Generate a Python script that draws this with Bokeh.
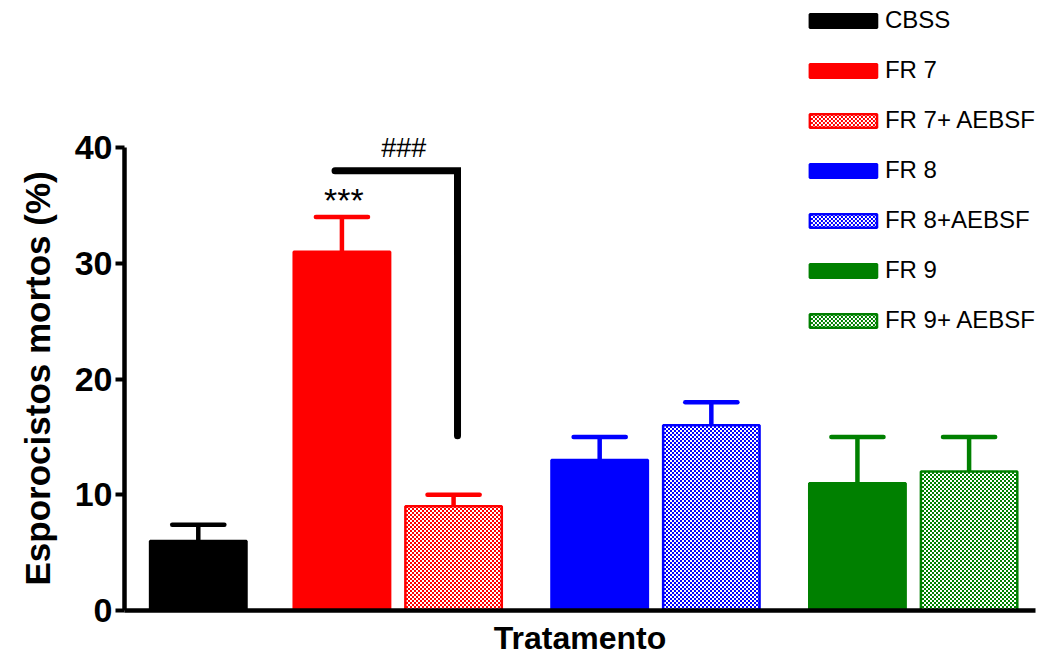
import base64
import struct
import zlib

from bokeh.embed import file_html
from bokeh.models import (ColumnDataSource, FixedTicker, ImageURLTexture, Label,
                          Legend, LegendItem, Range1d, Title)
from bokeh.plotting import figure
from bokeh.resources import INLINE

# ---- data -------------------------------------------------------------
groups = ["CBSS", "FR 7", "FR 7+ AEBSF", "FR 8", "FR 8+AEBSF", "FR 9", "FR 9+ AEBSF"]
means = [6, 31, 9, 13, 16, 11, 12]
sem = [1.4, 3, 1, 2, 2, 4, 3]
colors = ["#000000", "#ff0000", "#ff0000", "#0000ff", "#0000ff", "#008000", "#008000"]
hatched = [False, False, True, False, True, False, True]
y_ticks = [0, 10, 20, 30, 40]

# significance bracket between FR 7 and FR 7+ AEBSF
bracket_top = 38
bracket_bottom = 15.1

FONT = "Liberation Sans"


def checker_texture(rgb, cell=2):
    """Small checkerboard PNG (colour/white) as a data URL."""
    n = cell * 2
    raw = b""
    for j in range(n):
        row = b"\x00"
        for i in range(n):
            on = ((i // cell) + (j // cell)) % 2 == 0
            row += (bytes(rgb) + b"\xff") if on else b"\xff\xff\xff\xff"
        raw += row

    def chunk(tag, data):
        return (struct.pack(">I", len(data)) + tag + data +
                struct.pack(">I", zlib.crc32(tag + data) & 0xFFFFFFFF))

    png = (b"\x89PNG\r\n\x1a\n" +
           chunk(b"IHDR", struct.pack(">IIBBBBB", n, n, 8, 6, 0, 0, 0)) +
           chunk(b"IDAT", zlib.compress(raw)) +
           chunk(b"IEND", b""))
    return ImageURLTexture(url="data:image/png;base64," + base64.b64encode(png).decode(),
                           repetition="repeat")


def hex_rgb(h):
    h = h.lstrip("#")
    return tuple(int(h[k:k + 2], 16) for k in (0, 2, 4))


textures = {}
patterns = []
for c, h in zip(colors, hatched):
    if h:
        key = "chk_" + c.lstrip("#")
        if key not in textures:
            textures[key] = checker_texture(hex_rgb(c))
        patterns.append(key)
    else:
        patterns.append(" ")

# bar layout: control bar alone, then three treatment pairs
ctrl_x = 0.75
pair_start = 2.21
pair_step = 2.62
pair_gap = 1.135
xs = [ctrl_x]
for k in range(3):
    xs += [pair_start + k * pair_step, pair_start + k * pair_step + pair_gap]

src = ColumnDataSource(dict(
    x=xs, top=means, color=colors, pattern=patterns,
    fill=[("#ffffff" if h else c) for c, h in zip(colors, hatched)],
    err_top=[m + e for m, e in zip(means, sem)],
    cap_l=[x - 0.265 for x in xs], cap_r=[x + 0.265 for x in xs],
))

X_MAX = 9.26
p = figure(width=1041, height=658, output_backend="svg", toolbar_location=None,
           x_range=Range1d(0, X_MAX), y_range=Range1d(0, 52.27),
           min_border_left=123, min_border_right=6, min_border_top=5,
           min_border_bottom=48)
p.outline_line_color = None
p.grid.visible = False
p.background_fill_color = "white"

# error bars (upper only)
p.segment(x0="x", y0="top", x1="x", y1="err_top", source=src,
          line_color="color", line_width=4.5)
p.segment(x0="cap_l", y0="err_top", x1="cap_r", y1="err_top", source=src,
          line_color="color", line_width=4.5, line_cap="round")

bars = p.vbar(x="x", top="top", bottom=0, width=0.98, source=src,
              fill_color="fill", line_color="color", line_width=2.5,
              hatch_pattern="pattern", hatch_extra=textures,
              hatch_color="color")

# bracket and significance marks
p.line(x=[xs[1] - 0.07, xs[2] + 0.04, xs[2] + 0.04],
       y=[bracket_top, bracket_top, bracket_bottom],
       line_color="black", line_width=7, line_cap="round", line_join="miter")
p.add_layout(Label(x=xs[1] + 0.02, y=means[1] + sem[1] + 1.5, text="***",
                   text_font=FONT, text_font_size="34px", text_align="center",
                   text_baseline="alphabetic", text_color="black"))
p.add_layout(Label(x=(xs[1] + xs[2]) / 2 + 0.06, y=bracket_top + 1.95, text="###",
                   text_font=FONT, text_font_size="27px", text_align="center",
                   text_baseline="alphabetic", text_color="black"))

# axes
ya = p.yaxis[0]
ya.bounds = (0, 40)
ya.ticker = FixedTicker(ticks=y_ticks)
ya.minor_tick_line_color = None
ya.major_tick_in = 0
ya.major_tick_out = 9
ya.major_tick_line_width = 4
ya.axis_line_width = 4.5
ya.axis_line_color = "black"
ya.major_tick_line_color = "black"
ya.major_label_text_font = FONT
ya.major_label_text_font_style = "bold"
ya.major_label_text_font_size = "34px"
ya.major_label_text_color = "black"
ya.major_label_standoff = 3

xa = p.xaxis[0]
xa.ticker = FixedTicker(ticks=[])
xa.major_tick_line_color = None
xa.minor_tick_line_color = None
xa.axis_line_width = 4.5
xa.axis_line_color = "black"
xa.axis_label = "Tratamento"
xa.axis_label_text_font = FONT
xa.axis_label_text_font_style = "bold"
xa.axis_label_text_font_size = "32px"
xa.axis_label_text_color = "black"
xa.axis_label_standoff = 9

# y title: starts near the axis foot so it sits centred on the 0-40 span
p.add_layout(Title(text="Esporocistos mortos (%)", align="left", offset=25,
                   standoff=30, text_font=FONT,
                   text_font_style="bold", text_font_size="35px",
                   text_color="black"), "left")

legend = Legend(items=[LegendItem(label=g, renderers=[bars], index=i)
                       for i, g in enumerate(groups)],
                location="top_right", margin=0, padding=0, spacing=20,
                glyph_width=84, glyph_height=17, label_height=30,
                label_standoff=0, label_text_font=FONT,
                label_text_font_size="24px", label_text_color="black",
                border_line_color=None, background_fill_alpha=0)
p.add_layout(legend)

open("out.html", "w").write(file_html(p, INLINE))
